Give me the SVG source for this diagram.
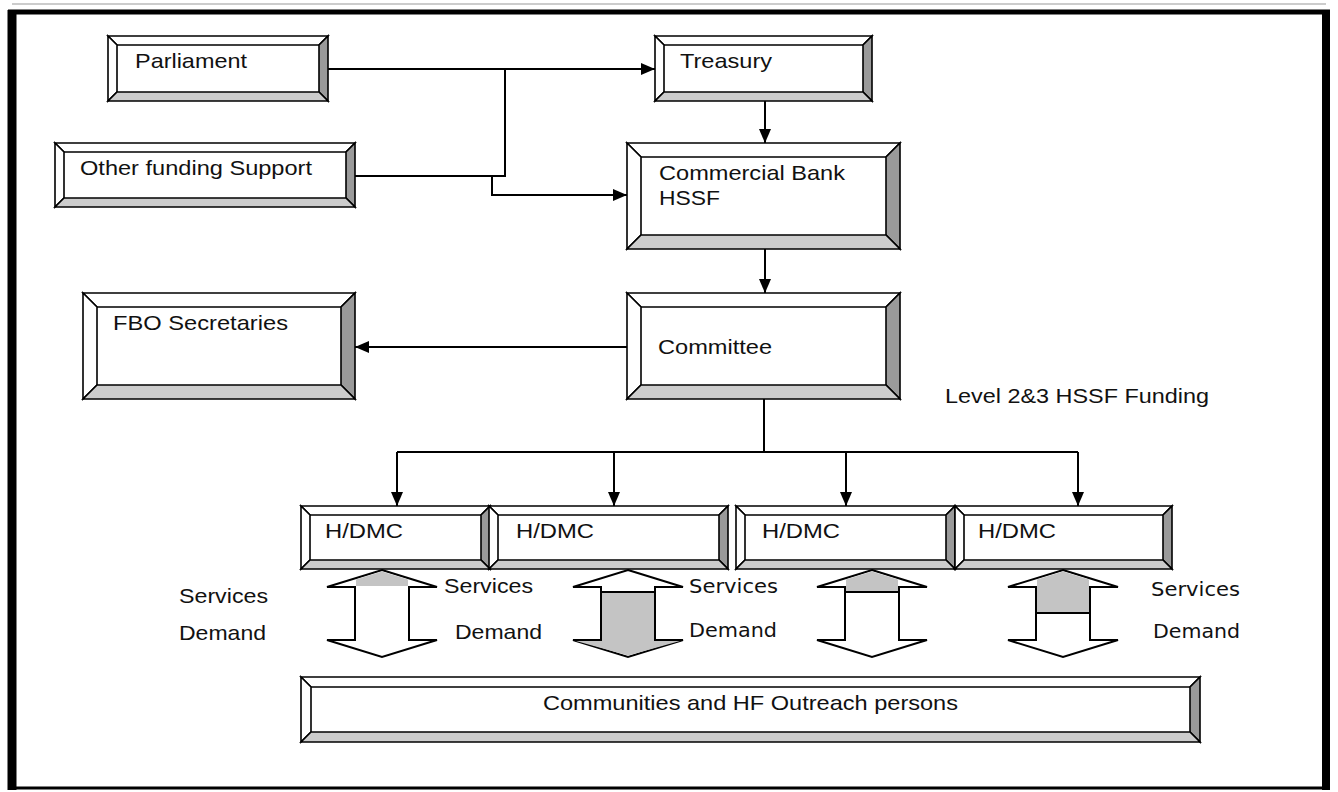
<svg xmlns="http://www.w3.org/2000/svg" width="1338" height="792" viewBox="0 0 1338 792">
  <style>
    .lbl { font-family: "Liberation Sans", Arial, sans-serif; font-size: 21px; fill: #111; }
    .alt { font-family: "DejaVu Sans", Tahoma, sans-serif; font-size: 19px; fill: #111; }
    .bw { fill: #ffffff; stroke: #000; stroke-width: 1.6; stroke-linejoin: miter; }
    .bd { fill: #9a9a9a; stroke: #000; stroke-width: 1.6; }
    .bl { fill: #cccccc; stroke: #000; stroke-width: 1.6; }
    .face { fill: #ffffff; stroke: none; }
    .wire { fill: none; stroke: #000; stroke-width: 2; }
    .blk { fill: #fff; stroke: #000; stroke-width: 2; stroke-linejoin: miter; }
    .shade { fill: #c4c4c4; stroke: none; }
    .sep { stroke: #000; stroke-width: 2; }
  </style>
  <defs>
    <marker id="tip" viewBox="0 0 14 12" refX="14" refY="6" markerWidth="14" markerHeight="12" markerUnits="userSpaceOnUse" orient="auto">
      <path d="M0,0 L14,6 L0,12 Z" fill="#000"/>
    </marker>
  </defs>

  <rect width="1338" height="792" fill="#fff"/>

  <!-- outer frame -->
  <g id="frame">
    <line x1="12" y1="4" x2="1326" y2="4" stroke="#999" stroke-width="1"/>
    <line x1="8" y1="12" x2="1330" y2="12" stroke="#000" stroke-width="5"/>
    <line x1="12" y1="10" x2="12" y2="790" stroke="#000" stroke-width="9"/>
    <line x1="1326" y1="10" x2="1326" y2="790" stroke="#000" stroke-width="8"/>
    <line x1="8" y1="788" x2="1330" y2="788" stroke="#000" stroke-width="3"/>
  </g>

  <!-- connectors -->
  <g id="connectors">
    <path class="wire" d="M328,69 H655" marker-end="url(#tip)"/>
    <path class="wire" d="M355,176 H505 V69"/>
    <path class="wire" d="M492,176 V195 H627" marker-end="url(#tip)"/>
    <path class="wire" d="M765,101 V143" marker-end="url(#tip)"/>
    <path class="wire" d="M765,249 V293" marker-end="url(#tip)"/>
    <path class="wire" d="M627,347 H355" marker-end="url(#tip)"/>
    <path class="wire" d="M764,399 V452"/>
    <path class="wire" d="M397,452 H1078"/>
    <path class="wire" d="M397,452 V506" marker-end="url(#tip)"/>
    <path class="wire" d="M614,452 V506" marker-end="url(#tip)"/>
    <path class="wire" d="M846,452 V506" marker-end="url(#tip)"/>
    <path class="wire" d="M1078,452 V506" marker-end="url(#tip)"/>
  </g>

  <g id="parliament">
    <rect class="face" x="108" y="36" width="220" height="65"/>
    <polygon class="bw" points="108,36 328,36 319,45 117,45"/>
    <polygon class="bw" points="108,36 117,45 117,92 108,101"/>
    <polygon class="bd" points="328,36 328,101 319,92 319,45"/>
    <polygon class="bl" points="108,101 328,101 319,92 117,92"/>
    <text class="lbl" x="135" y="68" textLength="112" lengthAdjust="spacingAndGlyphs">Parliament</text>
  </g>

  <g id="treasury">
    <rect class="face" x="655" y="36" width="217" height="65"/>
    <polygon class="bw" points="655,36 872,36 863,45 664,45"/>
    <polygon class="bw" points="655,36 664,45 664,92 655,101"/>
    <polygon class="bd" points="872,36 872,101 863,92 863,45"/>
    <polygon class="bl" points="655,101 872,101 863,92 664,92"/>
    <text class="lbl" x="680" y="68" textLength="92" lengthAdjust="spacingAndGlyphs">Treasury</text>
  </g>

  <g id="other-funding">
    <rect class="face" x="55" y="143" width="300" height="64"/>
    <polygon class="bw" points="55,143 355,143 346,152 64,152"/>
    <polygon class="bw" points="55,143 64,152 64,198 55,207"/>
    <polygon class="bd" points="355,143 355,207 346,198 346,152"/>
    <polygon class="bl" points="55,207 355,207 346,198 64,198"/>
    <text class="lbl" x="80" y="175" textLength="232" lengthAdjust="spacingAndGlyphs">Other funding Support</text>
  </g>

  <g id="commercial-bank">
    <rect class="face" x="627" y="143" width="273" height="106"/>
    <polygon class="bw" points="627,143 900,143 886,157 641,157"/>
    <polygon class="bw" points="627,143 641,157 641,235 627,249"/>
    <polygon class="bd" points="900,143 900,249 886,235 886,157"/>
    <polygon class="bl" points="627,249 900,249 886,235 641,235"/>
    <text class="lbl" x="659" y="180" textLength="186" lengthAdjust="spacingAndGlyphs">Commercial Bank</text>
    <text class="lbl" x="659" y="205" textLength="61" lengthAdjust="spacingAndGlyphs">HSSF</text>
  </g>

  <g id="fbo-secretaries">
    <rect class="face" x="83" y="293" width="272" height="106"/>
    <polygon class="bw" points="83,293 355,293 341,307 97,307"/>
    <polygon class="bw" points="83,293 97,307 97,385 83,399"/>
    <polygon class="bd" points="355,293 355,399 341,385 341,307"/>
    <polygon class="bl" points="83,399 355,399 341,385 97,385"/>
    <text class="lbl" x="113" y="330" textLength="175" lengthAdjust="spacingAndGlyphs">FBO Secretaries</text>
  </g>

  <g id="committee">
    <rect class="face" x="627" y="293" width="273" height="106"/>
    <polygon class="bw" points="627,293 900,293 886,307 641,307"/>
    <polygon class="bw" points="627,293 641,307 641,385 627,399"/>
    <polygon class="bd" points="900,293 900,399 886,385 886,307"/>
    <polygon class="bl" points="627,399 900,399 886,385 641,385"/>
    <text class="lbl" x="658" y="354" textLength="114" lengthAdjust="spacingAndGlyphs">Committee</text>
  </g>

  <g id="funding-label">
    <text class="lbl" x="945" y="403" textLength="264" lengthAdjust="spacingAndGlyphs">Level 2&amp;3 HSSF Funding</text>
  </g>

  <g id="hdmc-1">
    <rect class="face" x="301" y="506" width="189" height="63"/>
    <polygon class="bw" points="301,506 490,506 481,515 310,515"/>
    <polygon class="bw" points="301,506 310,515 310,560 301,569"/>
    <polygon class="bd" points="490,506 490,569 481,560 481,515"/>
    <polygon class="bl" points="301,569 490,569 481,560 310,560"/>
    <text class="lbl" x="325" y="538" textLength="78" lengthAdjust="spacingAndGlyphs">H/DMC</text>
  </g>

  <g id="hdmc-2">
    <rect class="face" x="489" y="506" width="239" height="63"/>
    <polygon class="bw" points="489,506 728,506 719,515 498,515"/>
    <polygon class="bw" points="489,506 498,515 498,560 489,569"/>
    <polygon class="bd" points="728,506 728,569 719,560 719,515"/>
    <polygon class="bl" points="489,569 728,569 719,560 498,560"/>
    <text class="lbl" x="516" y="538" textLength="78" lengthAdjust="spacingAndGlyphs">H/DMC</text>
  </g>

  <g id="hdmc-3">
    <rect class="face" x="736" y="506" width="219" height="63"/>
    <polygon class="bw" points="736,506 955,506 946,515 745,515"/>
    <polygon class="bw" points="736,506 745,515 745,560 736,569"/>
    <polygon class="bd" points="955,506 955,569 946,560 946,515"/>
    <polygon class="bl" points="736,569 955,569 946,560 745,560"/>
    <text class="lbl" x="762" y="538" textLength="78" lengthAdjust="spacingAndGlyphs">H/DMC</text>
  </g>

  <g id="hdmc-4">
    <rect class="face" x="955" y="506" width="217" height="63"/>
    <polygon class="bw" points="955,506 1172,506 1163,515 964,515"/>
    <polygon class="bw" points="955,506 964,515 964,560 955,569"/>
    <polygon class="bd" points="1172,506 1172,569 1163,560 1163,515"/>
    <polygon class="bl" points="955,569 1172,569 1163,560 964,560"/>
    <text class="lbl" x="978" y="538" textLength="78" lengthAdjust="spacingAndGlyphs">H/DMC</text>
  </g>

  <!-- two-way flow arrows between H/DMC and communities -->
  <g id="flow-1">
    <path class="blk" d="M382,570 L437,587 L409,587 L409,640 L437,640 L382,657 L327,640 L355,640 L355,587 L327,587 Z"/>
    <polygon class="shade" points="382,571.5 408,579.5 408,586 356,586 356,579.5"/>
    <text class="lbl" x="179" y="603" textLength="89" lengthAdjust="spacingAndGlyphs">Services</text>
    <text class="lbl" x="179" y="640" textLength="87" lengthAdjust="spacingAndGlyphs">Demand</text>
    <text class="lbl" x="444" y="593" textLength="89" lengthAdjust="spacingAndGlyphs">Services</text>
    <text class="lbl" x="455" y="639" textLength="87" lengthAdjust="spacingAndGlyphs">Demand</text>
  </g>

  <g id="flow-2">
    <path class="blk" d="M628,570 L683,587 L655,587 L655,640 L683,640 L628,657 L573,640 L601,640 L601,587 L573,587 Z"/>
    <polygon class="shade" points="602,592 654,592 654,641 680,641 628,655.5 576,641 602,641"/>
    <line class="sep" x1="601" y1="592" x2="655" y2="592"/>
    <text class="alt" x="689" y="593" textLength="89" lengthAdjust="spacingAndGlyphs">Services</text>
    <text class="alt" x="689" y="637" textLength="88" lengthAdjust="spacingAndGlyphs">Demand</text>
  </g>

  <g id="flow-3">
    <path class="blk" d="M872,570 L927,587 L899,587 L899,640 L927,640 L872,657 L817,640 L845,640 L845,587 L817,587 Z"/>
    <polygon class="shade" points="872,571.5 898,579.5 898,591 846,591 846,579.5"/>
    <line class="sep" x1="845" y1="592" x2="899" y2="592"/>
  </g>

  <g id="flow-4">
    <path class="blk" d="M1063,570 L1118,587 L1090,587 L1090,640 L1118,640 L1063,657 L1008,640 L1036,640 L1036,587 L1008,587 Z"/>
    <polygon class="shade" points="1063,571.5 1089,579.5 1089,612 1037,612 1037,579.5"/>
    <line class="sep" x1="1036" y1="613" x2="1090" y2="613"/>
    <text class="alt" x="1151" y="596" textLength="89" lengthAdjust="spacingAndGlyphs">Services</text>
    <text class="alt" x="1153" y="638" textLength="87" lengthAdjust="spacingAndGlyphs">Demand</text>
  </g>

  <g id="communities">
    <rect class="face" x="301" y="677" width="899" height="65"/>
    <polygon class="bw" points="301,677 1200,677 1190,687 311,687"/>
    <polygon class="bw" points="301,677 311,687 311,732 301,742"/>
    <polygon class="bd" points="1200,677 1200,742 1190,732 1190,687"/>
    <polygon class="bl" points="301,742 1200,742 1190,732 311,732"/>
    <text class="lbl" x="543" y="710" textLength="415" lengthAdjust="spacingAndGlyphs">Communities and HF Outreach persons</text>
  </g>
</svg>
